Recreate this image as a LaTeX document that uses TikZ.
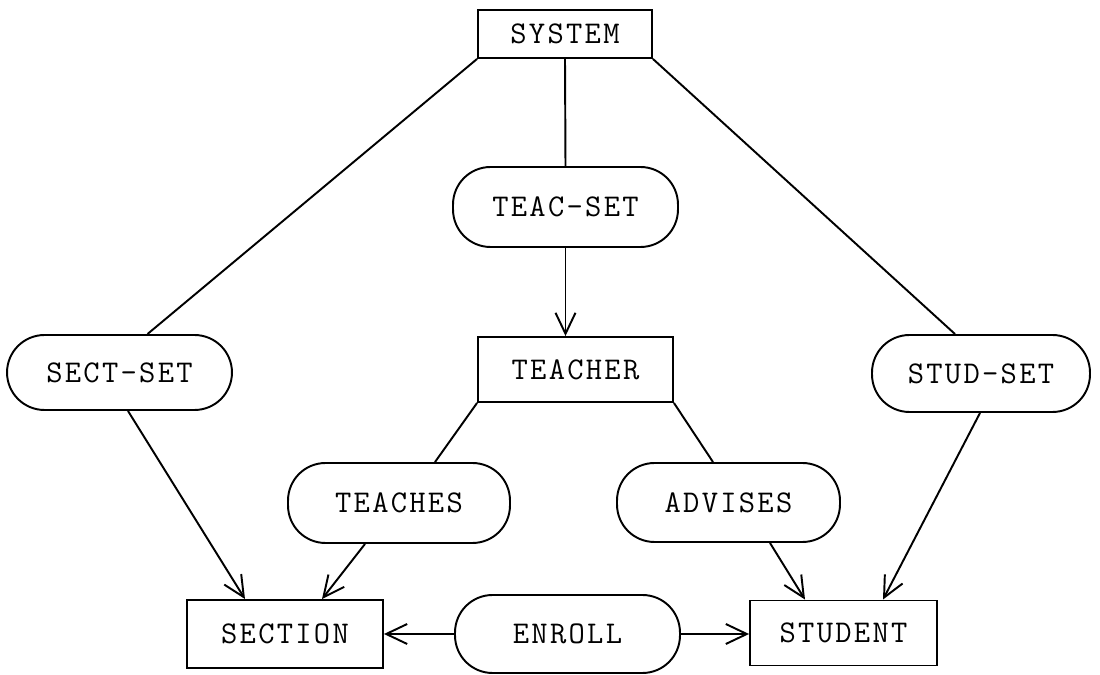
\documentclass[tikz,border=0pt]{standalone}
\usepackage{fontspec}
\usetikzlibrary{arrows.meta,calc}
% typewriter-style spacing: a small kern on each side of every letter
\def\lsp#1{\ifx#1\relax\else\kern0.65pt#1\kern0.65pt\expandafter\lsp\fi}
\newcommand{\tw}[1]{\lsp#1\relax}
\begin{document}
\begin{tikzpicture}[x=0.02cm,y=-0.02cm,
  every node/.style={font={\ttfamily\fontsize{18}{20}\selectfont\addfontfeatures{FakeBold=1}}},
  entity/.style={draw, line width=1.1pt, rectangle, inner sep=0pt},
  setbox/.style={draw, line width=1.1pt, rectangle, rounded corners=0.75cm, inner sep=0pt},
  link/.style={line width=1.1pt},
  arr/.style={line width=1.1pt, -{Straight Barb[length=0.42cm,width=0.4cm,line width=1.1pt]}}]
\useasboundingbox (0,0) rectangle (1100,675);

% record types and set types
\node[entity, minimum width=3.48cm, minimum height=0.96cm] (system) at (565,34) {\tw{SYSTEM}};
\node[setbox, minimum width=4.5cm, minimum height=1.6cm] (teacset) at (565.5,207) {\tw{TEAC-SET}};
\node[entity, minimum width=3.9cm, minimum height=1.3cm] (teacher) at (575.5,369.5) {\tw{TEACHER}};
\node[setbox, minimum width=4.5cm, minimum height=1.5cm] (sectset) at (119.5,372.5) {\tw{SECT-SET}};
\node[setbox, minimum width=4.36cm, minimum height=1.54cm] (studset) at (981,373.5) {\tw{STUD-SET}};
\node[setbox, minimum width=4.44cm, minimum height=1.6cm] (teaches) at (399,503) {\tw{TEACHES}};
\node[setbox, minimum width=4.46cm, minimum height=1.58cm] (advises) at (728.5,502.5) {\tw{ADVISES}};
\node[entity, minimum width=3.92cm, minimum height=1.36cm] (section) at (285,634) {\tw{SECTION}};
\node[setbox, minimum width=4.5cm, minimum height=1.56cm] (enroll) at (567.5,634) {\tw{ENROLL}};
\node[entity, minimum width=3.74cm, minimum height=1.3cm] (student) at (843.5,633) {\tw{STUDENT}};

% owner links
\draw[link] (system.south west) -- ($(sectset.north)+(28,0)$);
\draw[link] (system.south east) -- ($(studset.north)+(-26,0)$);
\draw[link] (system.south) -- (teacset.north);
\draw[link] (teacher.south west) -- ($(teaches.north)+(36,0)$);
\draw[link] (teacher.south east) -- ($(advises.north)+(-15.5,0)$);

% member links
\draw[arr] (teacset.south) -- (teacset.south |- teacher.north);
\draw[arr] ($(sectset.south)+(8.5,0)$) -- ($(section.north)+(-40,0)$);
\draw[arr] ($(teaches.south)+(-34,0)$) -- ($(section.north)+(37,0)$);
\draw[arr] ($(advises.south)+(41.5,0)$) -- ($(student.north)+(-38.5,0)$);
\draw[arr] ($(studset.south)+(-1,0)$) -- ($(student.north)+(39.5,0)$);
\draw[arr] (enroll.west) -- (enroll.west -| section.east);
\draw[arr] (enroll.east) -- (enroll.east -| student.west);
\end{tikzpicture}
\end{document}
